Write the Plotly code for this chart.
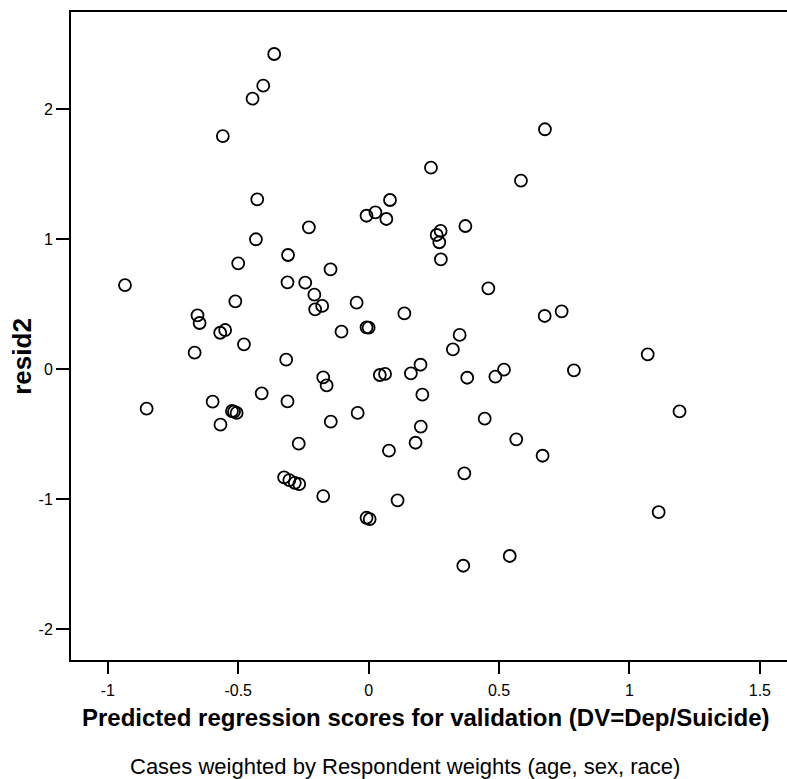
import plotly.graph_objects as go

predicted = [
    -0.362, -0.404, -0.445, -0.559, -0.427, -0.229, -0.432, -0.309, -0.500, -0.146,
    -0.934, -0.311, -0.243, -0.208, -0.178, -0.205, -0.511, -0.656, -0.648, -0.569,
    -0.550, -0.478, -0.667, -0.316, -0.174, -0.161, -0.410, -0.598, -0.311, -0.851,
    -0.524, -0.516, -0.506, -0.568, -0.145, -0.268, -0.324, -0.304, -0.283, -0.266,
    -0.174, 0.676, 0.239, 0.584, 0.082, -0.008, 0.026, 0.068, 0.371, 0.261,
    0.276, 0.271, 0.277, 0.459, -0.046, 0.137, 0.675, 0.740, -0.104, -0.008,
    0.000, 0.349, 0.323, 0.199, 0.043, 0.063, 0.162, 0.378, 0.486, 0.519,
    0.787, 0.206, -0.042, 0.445, 0.200, 0.180, 0.566, 0.078, 0.667, 0.367,
    0.111, -0.008, 0.004, 0.541, 0.363, 1.070, 1.192, 1.112,
]
resid2 = [
    2.423, 2.179, 2.079, 1.792, 1.305, 1.090, 0.998, 0.877, 0.813, 0.767,
    0.646, 0.667, 0.664, 0.572, 0.485, 0.459, 0.521, 0.413, 0.354, 0.279,
    0.300, 0.190, 0.126, 0.072, -0.064, -0.126, -0.187, -0.251, -0.249, -0.305,
    -0.323, -0.328, -0.338, -0.428, -0.405, -0.574, -0.833, -0.854, -0.875, -0.885,
    -0.977, 1.844, 1.549, 1.449, 1.300, 1.179, 1.205, 1.154, 1.100, 1.031,
    1.062, 0.975, 0.844, 0.621, 0.510, 0.428, 0.408, 0.444, 0.287, 0.321,
    0.318, 0.262, 0.151, 0.033, -0.046, -0.038, -0.033, -0.067, -0.059, -0.005,
    -0.010, -0.197, -0.338, -0.382, -0.443, -0.567, -0.541, -0.628, -0.667, -0.802,
    -1.010, -1.144, -1.154, -1.438, -1.513, 0.113, -0.326, -1.100,
]

x_ticks = [-1, -0.5, 0, 0.5, 1, 1.5]
x_tick_labels = ["-1", "-0.5", "0", "0.5", "1", "1.5"]
y_ticks = [-2, -1, 0, 1, 2]
y_tick_labels = ["-2", "-1", "0", "1", "2"]

x_title = "Predicted regression scores for validation (DV=Dep/Suicide)"
y_title = "resid2"
footnote = "Cases weighted by Respondent weights (age, sex, race)"

FONT = "Liberation Sans, Arial, sans-serif"

fig = go.Figure(
    go.Scatter(
        x=predicted,
        y=resid2,
        mode="markers",
        marker=dict(symbol="circle-open", size=12, color="black", line=dict(width=1.8, color="black")),
        showlegend=False,
        hoverinfo="x+y",
    )
)

fig.update_layout(
    width=787,
    height=779,
    margin=dict(l=71, r=0, t=12, b=119),
    paper_bgcolor="white",
    plot_bgcolor="white",
    font=dict(family=FONT, color="black"),
    xaxis=dict(
        range=[-1.141, 1.604],
        tickvals=x_ticks,
        ticktext=x_tick_labels,
        ticks="outside",
        ticklen=12,
        tickwidth=2,
        tickcolor="black",
        ticklabelstandoff=3,
        showline=True,
        linewidth=2,
        linecolor="black",
        mirror=True,
        showgrid=False,
        zeroline=False,
        tickfont=dict(size=16, family=FONT, color="black"),
    ),
    yaxis=dict(
        range=[-2.238, 2.746],
        tickvals=y_ticks,
        ticktext=y_tick_labels,
        ticks="outside",
        ticklen=13,
        tickwidth=2,
        tickcolor="black",
        showline=True,
        linewidth=2,
        linecolor="black",
        mirror=False,
        showgrid=False,
        zeroline=False,
        tickfont=dict(size=16, family=FONT, color="black"),
    ),
    annotations=[
        dict(text="<b>" + x_title + "</b>", xref="paper", yref="paper", x=0.496, y=-0.0895,
             xanchor="center", yanchor="middle", showarrow=False,
             font=dict(size=24, family=FONT, color="black")),
        dict(text="<b>" + y_title + "</b>", xref="paper", yref="paper", x=-0.0684, y=0.468,
             xanchor="center", yanchor="middle", showarrow=False, textangle=-90,
             font=dict(size=26, family=FONT, color="black")),
        dict(text=footnote, xref="paper", yref="paper", x=0.466, y=-0.1636,
             xanchor="center", yanchor="middle", showarrow=False,
             font=dict(size=22, family=FONT, color="black")),
    ],
)

fig.write_html(
    "out.html",
    config={"displayModeBar": False},
    post_script="document.body.style.margin='0';document.body.style.overflow='hidden';",
)
